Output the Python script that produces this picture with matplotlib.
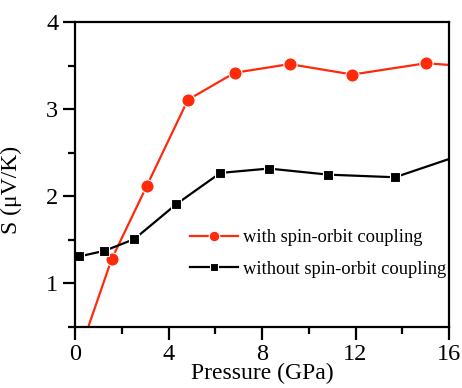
import matplotlib
matplotlib.use("Agg")
import matplotlib.pyplot as plt
from matplotlib.ticker import MultipleLocator

plt.rcParams['font.family'] = ['Liberation Serif', 'DejaVu Serif']
plt.rcParams['mathtext.fontset'] = 'stix'

# Data
p_soc = [0.0, 1.57, 3.07, 4.83, 6.83, 9.18, 11.87, 15.02, 17.5]
s_soc = [0.06, 1.28, 2.12, 3.11, 3.42, 3.52, 3.40, 3.53, 3.48]
p_nosoc = [0.17, 1.26, 2.54, 4.33, 6.22, 8.29, 10.84, 13.69, 17.0]
s_nosoc = [1.31, 1.375, 1.51, 1.91, 2.27, 2.32, 2.25, 2.22, 2.52]

label_soc = "with spin-orbit coupling"
label_nosoc = "without spin-orbit coupling"
xlabel = "Pressure (GPa)"
ylabel = "S (\u03bcV/K)"
xticks = [0, 4, 8, 12, 16]
yticks = [1, 2, 3, 4]

red = '#ff2a0a'

fig = plt.figure(figsize=(4.62, 3.88), dpi=100)
ax = fig.add_axes([75/462, 1-327/388, (449-75)/462, (327-22.3)/388])

ax.plot(p_soc, s_soc, color=red, lw=1.6, marker='o', ms=9.5,
        mfc=red, mec='white', mew=0.8, label=label_soc, clip_on=True)
ax.plot(p_nosoc, s_nosoc, color='black', lw=1.6, marker='s', ms=7.5,
        mfc='black', mec='white', mew=0.8, label=label_nosoc, clip_on=True)

ax.set_xlim(0, 16)
ax.set_ylim(0.5, 4)
ax.set_xticks(xticks)
ax.set_yticks(yticks)
ax.xaxis.set_minor_locator(MultipleLocator(2))
ax.yaxis.set_minor_locator(MultipleLocator(0.5))

for s in ax.spines.values():
    s.set_linewidth(1.6)
ax.tick_params(which='major', direction='out', length=9, width=1.6,
               labelsize=17.5, top=False, right=False)
ax.tick_params(which='minor', direction='out', length=5, width=1.6,
               top=False, right=False)
ax.tick_params(axis='x', which='major', pad=3)
ax.tick_params(axis='y', which='major', pad=3)

ax.set_xlabel(xlabel, fontsize=17, labelpad=-1)
ax.set_ylabel(ylabel, fontsize=17)
ax.yaxis.set_label_coords(-0.142, 0.449)

leg = ax.legend(loc='upper left', bbox_to_anchor=(0.308, 0.32), frameon=False,
                fontsize=13.3, handlelength=2.6, handletextpad=0.27,
                labelspacing=0.78, borderpad=0, borderaxespad=0, markerscale=0.8)

fig.savefig('out.png', dpi=100)
